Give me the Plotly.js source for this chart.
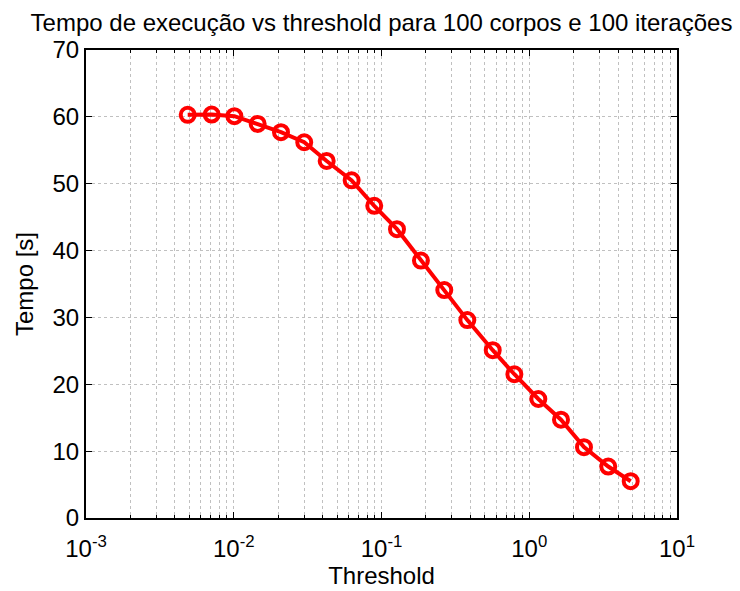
<!DOCTYPE html>
<html>
<head>
<meta charset="utf-8">
<script src="https://cdn.plot.ly/plotly-3.0.1.min.js"></script>
<style>html,body{margin:0;padding:0;background:#fff;}#chart{width:740px;height:591px;}</style>
</head>
<body>
<div id="chart"></div>
<script>
var threshold = [0.00488, 0.00709, 0.0101, 0.01452, 0.02088, 0.0300, 0.04256, 0.0628, 0.0893, 0.1273,
                 0.1849, 0.266, 0.381, 0.566, 0.793, 1.152, 1.640, 2.347, 3.426, 4.86];
var tempo = [60.3, 60.35, 60.1, 58.95, 57.7, 56.2, 53.4, 50.5, 46.7, 43.2,
             38.5, 34.1, 29.6, 25.1, 21.5, 17.8, 14.7, 10.6, 7.7, 5.5];
var xMajorVals = [0.001, 0.01, 0.1, 1, 10];
var xMajorText = ['10<sup>-3</sup>', '10<sup>-2</sup>', '10<sup>-1</sup>', '10<sup>0</sup>', '10<sup>1</sup>'];
var xMinorVals = [];
for (var d = 0; d < 4; d++) { for (var m = 2; m <= 9; m++) { xMinorVals.push(m * xMajorVals[d]); } }
var yTicks = [0, 10, 20, 30, 40, 50, 60, 70];

var font = 'Liberation Sans, Arial, sans-serif';
var trace = {
  x: threshold, y: tempo, type: 'scatter', mode: 'lines+markers',
  line: {color: '#ff0000', width: 4},
  marker: {symbol: 'circle-open', size: 14, color: '#ff0000', line: {width: 4, color: '#ff0000'}},
  showlegend: false
};
var layout = {
  width: 740, height: 591,
  margin: {l: 86, r: 63, t: 50, b: 73},
  paper_bgcolor: '#fff', plot_bgcolor: '#fff',
  font: {family: font, color: '#000'},
  title: {text: 'Tempo de execução vs threshold para 100 corpos e 100 iterações', font: {size: 24, family: font, color: '#000'}, x: 0.5, xanchor: 'center', xref: 'paper', y: 0.962, yanchor: 'middle'},
  xaxis: {
    type: 'log', range: [-3, 1],
    tickmode: 'array', tickvals: xMajorVals, ticktext: xMajorText,
    ticks: 'inside', ticklen: 6, tickwidth: 1, tickcolor: '#000',
    showline: true, linecolor: '#000', linewidth: 2, mirror: 'allticks',
    showgrid: true, gridcolor: '#c0c0c0', griddash: 'dot', gridwidth: 1,
    zeroline: false, ticklabelstandoff: 8,
    tickfont: {size: 24, family: font, color: '#000'},
    title: {text: 'Threshold', font: {size: 24, family: font, color: '#000'}, standoff: 6},
    minor: {tickmode: 'array', tickvals: xMinorVals, ticks: 'inside', ticklen: 3, tickcolor: '#000', showgrid: true, gridcolor: '#c0c0c0', griddash: 'dot', gridwidth: 1}
  },
  yaxis: {
    range: [0, 70], tickmode: 'array', tickvals: yTicks,
    ticks: 'inside', ticklen: 6, tickwidth: 1, tickcolor: '#000',
    showline: true, linecolor: '#000', linewidth: 2, mirror: 'allticks',
    showgrid: true, gridcolor: '#c0c0c0', griddash: 'dot', gridwidth: 1,
    zeroline: false,
    tickfont: {size: 24, family: font, color: '#000'},
    title: {text: 'Tempo [s]', font: {size: 24, family: font, color: '#000'}, standoff: 12}
  }
};
Plotly.newPlot('chart', [trace], layout, {displayModeBar: false, staticPlot: true});
</script>
</body>
</html>
